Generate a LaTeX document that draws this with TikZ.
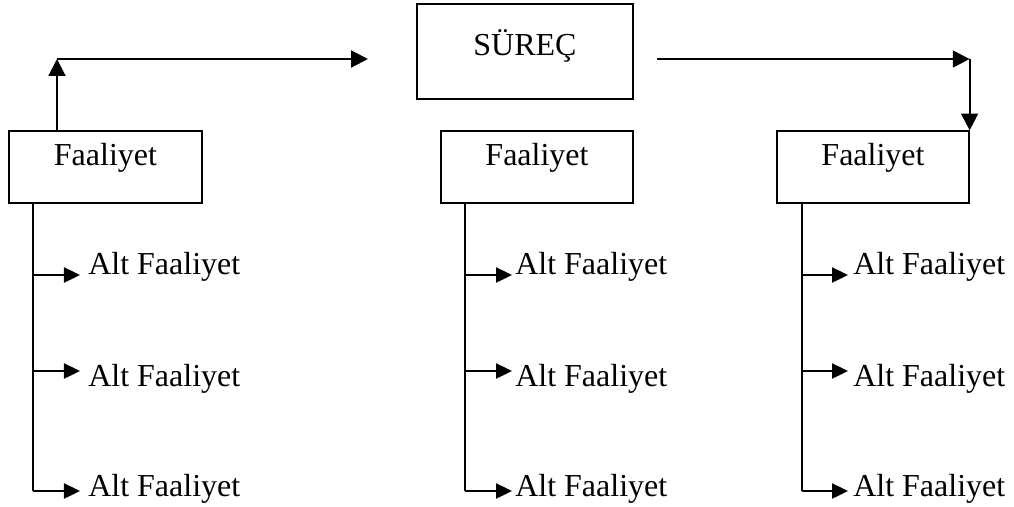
\documentclass[tikz,border=0pt]{standalone}
\usepackage{fontspec}
\setmainfont{Liberation Serif}
\usetikzlibrary{arrows.meta}

\begin{document}
\begin{tikzpicture}[x=0.025cm, y=-0.025cm,
                    font=\fontsize{22.76pt}{27pt}\selectfont,
                    arrow/.style = {line width=1.5pt,-{Triangle[length=0.42cm,width=0.42cm]}},
                    subarrow/.style = {line width=1.2pt,-{Triangle[length=0.4cm,width=0.38cm]}},
                    box/.style = {draw, line width=0.85pt, inner sep=0pt, anchor=base,
                                  minimum width=4.8cm, text height=0.85cm, text depth=0.95cm},
                    sub/.style = {inner ysep=0pt, anchor=base west}]
                    \useasboundingbox (0,0) rectangle (1014,507);

                    % Process
                    \node [box, minimum width=5.4cm, text height=1.275cm, text depth=1.1cm] (surec) at (525,55) {SÜREÇ};

                    % Activities
                    \node [box, minimum width=4.825cm] (f1) at (105.5,165) {Faaliyet};
                    \node [box] (f2) at (537,165) {Faaliyet};
                    \node [box] (f3) at (873,165) {Faaliyet};

                    % Flow
                    \coordinate (c1) at (57,59);
                    \coordinate (e1) at (368,59);
                    \coordinate (s1) at (657,59);
                    \coordinate (c3) at (f3.north east |- s1);
                    \draw[arrow] (f1.north -| c1) -- (c1);
                    \draw[arrow] (c1) -- (e1);
                    \draw[arrow] (s1) -- (c3);
                    \draw[arrow] (c3) -- (f3.north east);

                    % Column 1
                    \coordinate (t11) at (33,275);
                    \coordinate (t12) at (33,371);
                    \coordinate (t13) at (33,491);
                    \draw[line width=0.9pt] (f1.south -| t13) -- (t13);
                    \node [sub, inner xsep=0.2cm] (a11) at (80,274) {Alt Faaliyet};
                    \node [sub, inner xsep=0.2cm] (a12) at (80,386) {Alt Faaliyet};
                    \node [sub, inner xsep=0.2cm] (a13) at (80,496) {Alt Faaliyet};
                    \draw[subarrow] (t11) -- (a11.west |- t11);
                    \draw[subarrow] (t12) -- (a12.west |- t12);
                    \draw[subarrow] (t13) -- (a13.west |- t13);

                    % Column 2
                    \coordinate (t21) at (465,275);
                    \coordinate (t22) at (465,371);
                    \coordinate (t23) at (465,491);
                    \draw[line width=0.9pt] (f2.south -| t23) -- (t23);
                    \node [sub, inner xsep=0.075cm] (a21) at (512,274) {Alt Faaliyet};
                    \node [sub, inner xsep=0.075cm] (a22) at (512,386) {Alt Faaliyet};
                    \node [sub, inner xsep=0.075cm] (a23) at (512,496) {Alt Faaliyet};
                    \draw[subarrow] (t21) -- (a21.west |- t21);
                    \draw[subarrow] (t22) -- (a22.west |- t22);
                    \draw[subarrow] (t23) -- (a23.west |- t23);

                    % Column 3
                    \coordinate (t31) at (802,275);
                    \coordinate (t32) at (802,371);
                    \coordinate (t33) at (802,491);
                    \draw[line width=0.9pt] (f3.south -| t33) -- (t33);
                    \node [sub, inner xsep=0.125cm] (a31) at (848,274) {Alt Faaliyet};
                    \node [sub, inner xsep=0.125cm] (a32) at (848,386) {Alt Faaliyet};
                    \node [sub, inner xsep=0.125cm] (a33) at (848,496) {Alt Faaliyet};
                    \draw[subarrow] (t31) -- (a31.west |- t31);
                    \draw[subarrow] (t32) -- (a32.west |- t32);
                    \draw[subarrow] (t33) -- (a33.west |- t33);
\end{tikzpicture}
\end{document}
